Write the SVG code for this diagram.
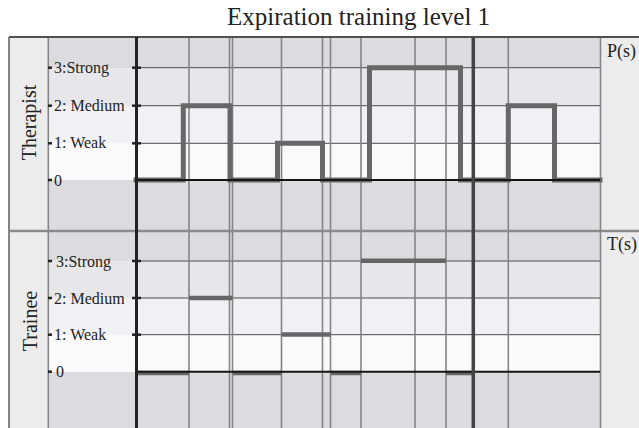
<svg xmlns="http://www.w3.org/2000/svg" width="639" height="428" viewBox="0 0 639 428">
  <style>
    .serif { font-family: "Liberation Serif", "Times New Roman", serif; fill: #222; }
    .lvl { font-size: 16px; }
    .grid { stroke: #4a4a4a; stroke-width: 1; fill: none; }
    .vgrid { stroke: #858585; stroke-width: 1.6; fill: none; }
    .tick { stroke: #222; stroke-width: 2.5; }
    .zero { stroke: #151515; stroke-width: 2; }
    .sig { stroke: #676767; stroke-width: 5; fill: none; stroke-linejoin: miter; stroke-linecap: square; }
    .tsig { stroke: #666; stroke-width: 4.5; fill: none; }
  </style>

  <rect x="0" y="0" width="639" height="428" fill="#ffffff"/>

  <!-- backgrounds -->
  <g id="backgrounds">
    <rect x="9" y="37" width="39" height="391" fill="#ececec"/>
    <rect x="600" y="37" width="39" height="391" fill="#ececec"/>
    <!-- top panel bands -->
    <rect x="48" y="37" width="552" height="31" fill="#dcdcdf"/>
    <rect x="48" y="68" width="552" height="38" fill="#e7e7e9"/>
    <rect x="48" y="106" width="552" height="37" fill="#f1f1f3"/>
    <rect x="48" y="143" width="552" height="37" fill="#fafafa"/>
    <rect x="48" y="180" width="552" height="51" fill="#dcdcdf"/>
    <!-- bottom panel bands -->
    <rect x="48" y="231" width="552" height="30" fill="#dcdcdf"/>
    <rect x="48" y="261" width="552" height="37" fill="#e7e7e9"/>
    <rect x="48" y="298" width="552" height="37" fill="#f1f1f3"/>
    <rect x="48" y="335" width="552" height="37" fill="#fafafa"/>
    <rect x="48" y="372" width="552" height="56" fill="#dcdcdf"/>
  </g>

  <!-- grid -->
  <g id="grid">
    <g class="grid">
      <line x1="136" y1="67.7" x2="600" y2="67.7"/>
      <line x1="136" y1="105.7" x2="600" y2="105.7"/>
      <line x1="136" y1="143.3" x2="600" y2="143.3"/>
      <line x1="136" y1="261" x2="600" y2="261"/>
      <line x1="136" y1="298" x2="600" y2="298"/>
      <line x1="136" y1="334.7" x2="600" y2="334.7"/>
    </g>
    <g class="vgrid">
      <line x1="189" y1="37" x2="189" y2="428"/>
      <line x1="229.5" y1="37" x2="229.5" y2="428"/>
      <line x1="232.5" y1="37" x2="232.5" y2="428"/>
      <line x1="281.5" y1="37" x2="281.5" y2="428"/>
      <line x1="322.5" y1="37" x2="322.5" y2="428"/>
      <line x1="330.5" y1="37" x2="330.5" y2="428"/>
      <line x1="361" y1="37" x2="361" y2="428"/>
      <line x1="415" y1="37" x2="415" y2="428"/>
      <line x1="446" y1="37" x2="446" y2="428"/>
      <line x1="508.3" y1="37" x2="508.3" y2="428"/>
      <line x1="600.5" y1="37" x2="600.5" y2="428"/>
      <line x1="48.3" y1="37" x2="48.3" y2="428"/>
      <line x1="9" y1="37" x2="9" y2="428" stroke-width="2"/>
    </g>
    <line x1="9" y1="231" x2="639" y2="231" stroke="#8a8a8a" stroke-width="2.5"/>
    <line x1="9" y1="37" x2="639" y2="37" stroke="#505050" stroke-width="2"/>
  </g>

  <!-- therapist panel -->
  <g id="therapist">
    <text class="serif" font-size="20" text-anchor="middle" transform="translate(36,122.5) rotate(-90)">Therapist</text>
    <g class="serif lvl">
      <text x="54" y="73">3:Strong</text>
      <text x="54" y="110.5">2: Medium</text>
      <text x="54" y="148">1: Weak</text>
      <text x="54" y="185.5">0</text>
    </g>
    <g class="tick">
      <line x1="48" y1="67.7" x2="52" y2="67.7"/>
      <line x1="48" y1="105.7" x2="52" y2="105.7"/>
      <line x1="48" y1="143.3" x2="52" y2="143.3"/>
      <line x1="48" y1="180" x2="52" y2="180"/>
      <line x1="132" y1="67.7" x2="141" y2="67.7"/>
      <line x1="132" y1="105.7" x2="141" y2="105.7"/>
      <line x1="132" y1="143.3" x2="141" y2="143.3"/>
    </g>
    <text class="serif" x="607" y="57" font-size="18">P(s)</text>
  </g>

  <!-- trainee panel -->
  <g id="trainee">
    <text class="serif" font-size="20" text-anchor="middle" transform="translate(36.5,321) rotate(-90)">Trainee</text>
    <g class="serif lvl">
      <text x="56" y="266.5">3:Strong</text>
      <text x="54" y="303.5">2: Medium</text>
      <text x="54" y="340">1: Weak</text>
      <text x="56" y="377">0</text>
    </g>
    <g class="tick">
      <line x1="48" y1="261" x2="52" y2="261"/>
      <line x1="48" y1="298" x2="52" y2="298"/>
      <line x1="48" y1="334.7" x2="52" y2="334.7"/>
      <line x1="48" y1="371.7" x2="52" y2="371.7"/>
      <line x1="132" y1="261" x2="141" y2="261"/>
      <line x1="132" y1="298" x2="141" y2="298"/>
      <line x1="132" y1="334.7" x2="141" y2="334.7"/>
    </g>
    <text class="serif" x="607" y="250" font-size="18">T(s)</text>
  </g>

  <!-- signals -->
  <g id="connectors">
    <path class="sig" d="M136,180 H183.3 V105.7 H230 V180 H277.5 V143.3 H322.5 V180 H369.5 V67.7 H460.5 V180 H508.3 V105.7 H554.5 V180 H600"/>
    <g class="tsig">
      <line x1="136" y1="373" x2="189" y2="373"/>
      <line x1="189" y1="298" x2="232.5" y2="298"/>
      <line x1="233" y1="373" x2="281.5" y2="373"/>
      <line x1="281.5" y1="334.5" x2="330.5" y2="334.5"/>
      <line x1="331" y1="373" x2="361" y2="373"/>
      <line x1="361" y1="260.8" x2="446" y2="260.8"/>
      <line x1="446" y1="373" x2="473" y2="373"/>
    </g>
    <line class="zero" x1="136" y1="180" x2="600" y2="180"/>
    <line class="zero" x1="136" y1="371.7" x2="600" y2="371.7"/>
    <line x1="136.5" y1="37" x2="136.5" y2="428" stroke="#222" stroke-width="3"/>
    <line x1="473.3" y1="37" x2="473.3" y2="428" stroke="#444" stroke-width="3.5"/>
  </g>

  <!-- title -->
  <g id="title">
    <text class="serif" x="227" y="25" font-size="25">Expiration training level 1</text>
  </g>
</svg>
